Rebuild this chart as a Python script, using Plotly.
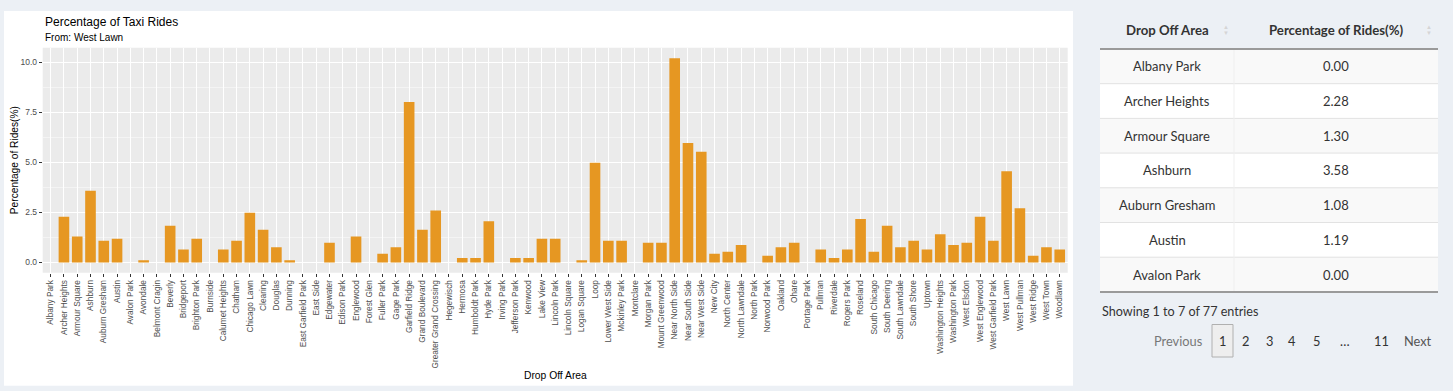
import plotly.graph_objects as go

areas = ["Albany Park", "Archer Heights", "Armour Square", "Ashburn", "Auburn Gresham", "Austin",
         "Avalon Park", "Avondale", "Belmont Cragin", "Beverly", "Bridgeport", "Brighton Park",
         "Burnside", "Calumet Heights", "Chatham", "Chicago Lawn", "Clearing", "Douglas", "Dunning",
         "East Garfield Park", "East Side", "Edgewater", "Edison Park", "Englewood", "Forest Glen",
         "Fuller Park", "Gage Park", "Garfield Ridge", "Grand Boulevard", "Greater Grand Crossing",
         "Hegewisch", "Hermosa", "Humboldt Park", "Hyde Park", "Irving Park", "Jefferson Park",
         "Kenwood", "Lake View", "Lincoln Park", "Lincoln Square", "Logan Square", "Loop",
         "Lower West Side", "Mckinley Park", "Montclare", "Morgan Park", "Mount Greenwood",
         "Near North Side", "Near South Side", "Near West Side", "New City", "North Center",
         "North Lawndale", "North Park", "Norwood Park", "Oakland", "Ohare", "Portage Park",
         "Pullman", "Riverdale", "Rogers Park", "Roseland", "South Chicago", "South Deering",
         "South Lawndale", "South Shore", "Uptown", "Washington Heights", "Washington Park",
         "West Elsdon", "West Englewood", "West Garfield Park", "West Lawn", "West Pullman",
         "West Ridge", "West Town", "Woodlawn"]

pct = [0.00, 2.28, 1.30, 3.58, 1.08, 1.19,
       0.00, 0.11, 0.00, 1.84, 0.65, 1.19,
       0.00, 0.65, 1.08, 2.49, 1.63, 0.76, 0.11,
       0.00, 0.00, 0.98, 0.00, 1.30, 0.00,
       0.43, 0.76, 8.03, 1.63, 2.60,
       0.00, 0.22, 0.22, 2.06, 0.00, 0.22,
       0.22, 1.19, 1.19, 0.00, 0.11, 4.99,
       1.08, 1.08, 0.00, 0.98, 0.98,
       10.21, 5.97, 5.54, 0.43, 0.54,
       0.87, 0.00, 0.33, 0.76, 0.98, 0.00,
       0.65, 0.22, 0.65, 2.17, 0.54, 1.84,
       0.76, 1.08, 0.65, 1.41, 0.87,
       0.98, 2.28, 1.08, 4.56, 2.71,
       0.33, 0.76, 0.65]

y_ticks = [0, 2.5, 5, 7.5, 10]
y_tick_labels = ["0.0", "2.5", "5.0", "7.5", "10.0"]
table_headers = ["Drop Off Area", "Percentage of Rides(%)"]
page_labels = ["1", "2", "3", "4", "5", "…", "11"]
rows_shown = 7

W, H = 1453, 391
PAGE_BG = "#ecf0f5"
def fx(x):
    return x / W
def fy(y):
    return 1 - y / H

CHART_FONT = "Liberation Sans, Arial, sans-serif"
TABLE_FONT = "Lato, Source Sans Pro, sans-serif"

fig = go.Figure()
fig.add_trace(go.Bar(
    x=areas, y=pct, width=0.8,
    marker=dict(color="#E69722", line=dict(width=0)),
    hoverinfo="x+y",
))

shapes = [
    dict(type="rect", xref="paper", yref="paper", x0=fx(4), x1=fx(1073), y0=fy(385.7), y1=fy(11),
         fillcolor="white", line=dict(width=0), layer="below"),
    dict(type="rect", xref="paper", yref="paper", x0=fx(42.7), x1=fx(1067.7), y0=fy(272.7), y1=fy(47.7),
         fillcolor="#EBEBEB", line=dict(width=0), layer="below"),
]
annotations = []

# ---- table (first page of entries) ----
TX0, TX1, TDIV = 1100, 1438, 1234
HEAD_BOTTOM, ROW_H = 49, 34.7
col_centers = [(TX0 + TDIV) / 2, (TDIV + TX1) / 2]
for i in range(rows_shown):
    y0 = HEAD_BOTTOM + i * ROW_H
    y1 = y0 + ROW_H
    shapes.append(dict(type="rect", xref="paper", yref="paper", x0=fx(TX0), x1=fx(TX1), y0=fy(y1), y1=fy(y0),
                       fillcolor="#f9f9f9" if i % 2 == 0 else "#ffffff", line=dict(width=0), layer="above"))
    if i > 0:
        shapes.append(dict(type="line", xref="paper", yref="paper", x0=fx(TX0), x1=fx(TX1), y0=fy(y0), y1=fy(y0),
                           line=dict(color="#e2e2e2", width=1), layer="above"))
    cells = [areas[i], "%.2f" % pct[i]]
    for c, txt in enumerate(cells):
        annotations.append(dict(text=txt, x=fx(col_centers[c]), y=fy(y0 + ROW_H / 2), xanchor="center",
                                yanchor="middle", font=dict(family=TABLE_FONT, size=13, color="#333333")))
table_bottom = HEAD_BOTTOM + rows_shown * ROW_H
shapes.append(dict(type="line", xref="paper", yref="paper", x0=fx(TDIV), x1=fx(TDIV), y0=fy(table_bottom), y1=fy(HEAD_BOTTOM),
                   line=dict(color="#efefef", width=1), layer="above"))
shapes.append(dict(type="line", xref="paper", yref="paper", x0=fx(TX0), x1=fx(TX1), y0=fy(HEAD_BOTTOM), y1=fy(HEAD_BOTTOM),
                   line=dict(color="#9a9a9a", width=2), layer="above"))
shapes.append(dict(type="line", xref="paper", yref="paper", x0=fx(TX0), x1=fx(TX1), y0=fy(table_bottom), y1=fy(table_bottom),
                   line=dict(color="#9a9a9a", width=2), layer="above"))
for c, htxt in enumerate(table_headers):
    annotations.append(dict(text="<b>" + htxt + "</b>", x=fx(col_centers[c]), y=fy(30), xanchor="center",
                            yanchor="middle", font=dict(family=TABLE_FONT, size=13.2, color="#333333")))
for sx in [1226, 1429]:
    annotations.append(dict(text="▲", x=fx(sx), y=fy(26.5), xanchor="center", yanchor="middle",
                            font=dict(size=6, color="#d5d5d5")))
    annotations.append(dict(text="▼", x=fx(sx), y=fy(33), xanchor="center", yanchor="middle",
                            font=dict(size=6, color="#d5d5d5")))

# pagination
shapes.append(dict(type="rect", xref="paper", yref="paper", x0=fx(1212), x1=fx(1233), y0=fy(357), y1=fy(324.5),
                   fillcolor="#eeeeee", line=dict(color="#b0b0b0", width=1), layer="above"))
annotations += [
    dict(text="Showing 1 to %d of %d entries" % (rows_shown, len(areas)), x=fx(1100), y=fy(311.7),
         xanchor="left", yanchor="middle", font=dict(family=TABLE_FONT, size=12.6, color="#333333")),
    dict(text="Previous", x=fx(1178.5), y=fy(341), xanchor="center", yanchor="middle",
         font=dict(family=TABLE_FONT, size=12.8, color="#777777")),
    dict(text="Next", x=fx(1417.7), y=fy(341), xanchor="center", yanchor="middle",
         font=dict(family=TABLE_FONT, size=12.8, color="#555555")),
]
page_x = [1222.3, 1245.7, 1269, 1292.3, 1316, 1345, 1381.7]
for lab, px in zip(page_labels, page_x):
    annotations.append(dict(text=lab, x=fx(px), y=fy(341), xanchor="center", yanchor="middle",
                            font=dict(family=TABLE_FONT, size=12.8, color="#333333")))

# chart titles
annotations += [
    dict(text="Percentage of Taxi Rides", x=fx(42.7), y=fy(21.7), xanchor="left", yanchor="middle",
         font=dict(family=CHART_FONT, size=12, color="#000000")),
    dict(text="From: West Lawn", x=fx(42.7), y=fy(37.3), xanchor="left", yanchor="middle",
         font=dict(family=CHART_FONT, size=10, color="#000000")),
    dict(text="Percentage of Rides(%)", x=fx(14), y=fy(160.2), textangle=-90, xanchor="center", yanchor="middle",
         font=dict(family=CHART_FONT, size=10.2, color="#000000")),
    dict(text="Drop Off Area", x=fx(555.2), y=fy(375.7), xanchor="center", yanchor="middle",
         font=dict(family=CHART_FONT, size=10.3, color="#000000")),
]
for a in annotations:
    a.update(xref="paper", yref="paper", showarrow=False)

fig.update_layout(
    width=W, height=H, autosize=False,
    margin=dict(l=0, r=0, t=0, b=0),
    paper_bgcolor=PAGE_BG, plot_bgcolor="rgba(0,0,0,0)",
    showlegend=False, bargap=0.2,
    shapes=shapes, annotations=annotations,
    font=dict(family=CHART_FONT),
    xaxis=dict(
        domain=[fx(42.7), fx(1067.7)], range=[-0.6, len(areas) - 0.4],
        type="category", categoryorder="array", categoryarray=areas,
        showgrid=True, gridcolor="#ffffff", gridwidth=1.1, zeroline=False, showline=False,
        ticks="outside", ticklen=3, tickcolor="#333333", tickwidth=1,
        tickangle=-90, tickfont=dict(family=CHART_FONT, size=8.3, color="#4D4D4D"),
        automargin=False,
    ),
    yaxis=dict(
        domain=[fy(272.7), fy(47.7)], range=[-0.512, 10.74],
        tickvals=y_ticks, ticktext=y_tick_labels,
        showgrid=True, gridcolor="#ffffff", gridwidth=1.1, zeroline=False, showline=False,
        ticks="outside", ticklen=3, tickcolor="#333333", tickwidth=1,
        tickfont=dict(family=CHART_FONT, size=8.5, color="#4D4D4D"),
        minor=dict(dtick=1.25, tick0=0, showgrid=True, gridcolor="#F4F4F4", gridwidth=0.6, ticks=""),
        automargin=False,
    ),
)

fig.write_html("out.html", config={"displayModeBar": False},
               post_script="document.body.style.margin='0';document.body.style.background='" + PAGE_BG + "';")
